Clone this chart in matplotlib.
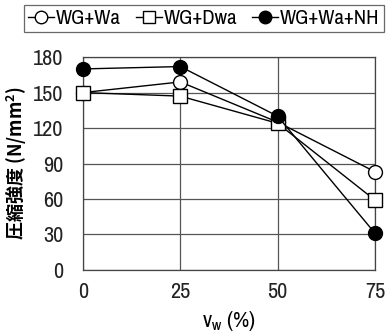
import matplotlib
matplotlib.use("Agg")
import matplotlib.pyplot as plt
from matplotlib.lines import Line2D

plt.rcParams['font.family'] = ['Archivo Narrow', 'Noto Sans CJK JP', 'DejaVu Sans']
plt.rcParams['mathtext.fontset'] = 'custom'
plt.rcParams['mathtext.rm'] = 'Archivo Narrow'

x = [0, 25, 50, 75]
wg_wa = [150, 159, 125, 83]
wg_dwa = [150, 147, 124, 59]
wg_wa_nh = [170, 172, 130, 31]
labels = ['WG+Wa', 'WG+Dwa', 'WG+Wa+NH']
yticks = [0, 30, 60, 90, 120, 150, 180]
xticks = [0, 25, 50, 75]

fig = plt.figure(figsize=(3.87, 3.32), dpi=100)
ax = fig.add_axes([0.2145, 0.187, 0.7545, 0.641])

ms = 10
ax.plot(x, wg_wa, '-o', color='black', lw=1, mfc='white', mec='black', mew=1, ms=ms, clip_on=False, zorder=3)
ax.plot(x, wg_dwa, '-s', color='black', lw=1, mfc='white', mec='black', mew=1, ms=ms, clip_on=False, zorder=3)
ax.plot(x, wg_wa_nh, '-o', color='black', lw=1, mfc='black', mec='black', mew=1, ms=ms, clip_on=False, zorder=4)

ax.set_xlim(0, 75)
ax.set_ylim(0, 180)
ax.set_xticks(xticks)
ax.set_yticks(yticks)
ax.grid(True, color='#555555', lw=0.9)
ax.set_axisbelow(True)
for s in ax.spines.values():
    s.set_color('#444444')
    s.set_linewidth(0.9)
ax.tick_params(length=0, labelsize=16, pad=14, colors='#222222')
ax.tick_params(axis='x', pad=9)

ax.set_ylabel('圧縮強度 (N/mm$^\\mathregular{2}$)', fontsize=13, fontweight='bold',
              family=['Noto Sans CJK JP', 'DejaVu Sans'], labelpad=3)
ax.set_xlabel('v$_\\mathregular{w}$ (%)', fontsize=16, labelpad=5)

handles = [
    Line2D([], [], color='black', lw=1, marker='o', mfc='white', mec='black', ms=9),
    Line2D([], [], color='black', lw=1, marker='s', mfc='white', mec='black', ms=9),
    Line2D([], [], color='black', lw=1, marker='o', mfc='black', mec='black', ms=9),
]
leg = fig.legend(handles, labels, ncol=3, loc='upper left', bbox_to_anchor=(0.062, 0.985),
                 frameon=True, fancybox=False, edgecolor='#444444', fontsize=15,
                 handlelength=1.25, handletextpad=0.1, columnspacing=0.7,
                 borderpad=0.2, borderaxespad=0)
leg.get_frame().set_linewidth(0.9)

fig.savefig('out.png', dpi=100)
